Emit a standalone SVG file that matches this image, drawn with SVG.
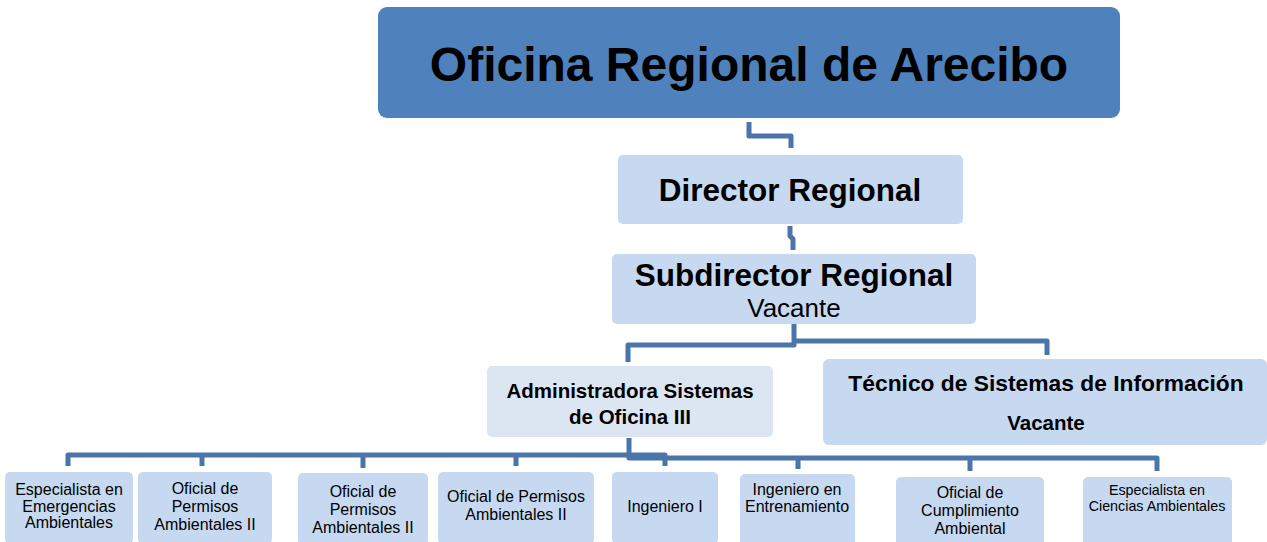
<svg xmlns="http://www.w3.org/2000/svg" width="1267" height="542" viewBox="0 0 1267 542">
<style>
.bx{fill:#c6d9f1;}
.bx2{fill:#dce6f2;}
.top{fill:#4f81bd;}
.ln{fill:none;stroke:#4a74aa;stroke-width:5;stroke-linejoin:round;}
text{font-family:"Liberation Sans",Arial,sans-serif;fill:#000;text-anchor:middle;}
.b{font-weight:bold;}
.s{font-size:16px;}
</style>
<rect width="1267" height="542" fill="#fff"/>
<g id="connectors">
<path class="ln" d="M749 122 V136 H791 V148"/>
<path class="ln" d="M790 226 V236 L793 239 V250"/>
<path class="ln" d="M794 324 V345 H628 V362"/>
<path class="ln" d="M794 341 H1047 V355"/>
<path class="ln" d="M629 438 V458 H1157 V471"/>
<path class="ln" d="M68 466 V455 H665 V466"/>
<path class="ln" d="M202 455 V466"/>
<path class="ln" d="M363 455 V468"/>
<path class="ln" d="M516 455 V466"/>
<path class="ln" d="M798 458 V469"/>
<path class="ln" d="M970 458 V471"/>
</g>
<g id="n-oficina">
<rect class="top" x="378" y="7" width="742" height="111" rx="9"/>
<text class="b" x="749" y="81" font-size="48">Oficina Regional de Arecibo</text>
</g>
<g id="n-director">
<rect class="bx" x="618" y="155" width="345" height="69" rx="5"/>
<text class="b" x="790" y="201" font-size="31.5">Director Regional</text>
</g>
<g id="n-subdirector">
<rect class="bx" x="612" y="254" width="364" height="70" rx="5"/>
<text class="b" x="794" y="286" font-size="31.5">Subdirector Regional</text>
<text x="794" y="317" font-size="26">Vacante</text>
</g>
<g id="n-admin">
<rect class="bx2" x="487" y="366" width="286" height="71" rx="5"/>
<text class="b" x="630" y="398" font-size="20.5">Administradora Sistemas</text>
<text class="b" x="630" y="424" font-size="20.5">de Oficina III</text>
</g>
<g id="n-tecnico">
<rect class="bx" x="823" y="359" width="444" height="86" rx="6"/>
<text class="b" x="1046" y="391" font-size="22.8">Técnico de Sistemas de Información</text>
<text class="b" x="1046" y="430" font-size="20.5">Vacante</text>
</g>
<g id="n-b1">
<rect class="bx" x="5" y="472" width="128" height="72" rx="5"/>
<text class="s" x="69" y="495">Especialista en</text>
<text class="s" x="69" y="512">Emergencias</text>
<text class="s" x="69" y="528">Ambientales</text>
</g>
<g id="n-b2">
<rect class="bx" x="138" y="472" width="134" height="72" rx="5"/>
<text class="s" x="205" y="494">Oficial de</text>
<text class="s" x="205" y="512">Permisos</text>
<text class="s" x="205" y="530">Ambientales II</text>
</g>
<g id="n-b3">
<rect class="bx" x="298" y="473" width="130" height="72" rx="5"/>
<text class="s" x="363" y="497">Oficial de</text>
<text class="s" x="363" y="515">Permisos</text>
<text class="s" x="363" y="533">Ambientales II</text>
</g>
<g id="n-b4">
<rect class="bx" x="438" y="472" width="156" height="72" rx="5"/>
<text class="s" x="516" y="502">Oficial de Permisos</text>
<text class="s" x="516" y="520">Ambientales II</text>
</g>
<g id="n-b5">
<rect class="bx" x="612" y="472" width="106" height="72" rx="5"/>
<text class="s" x="665" y="512">Ingeniero I</text>
</g>
<g id="n-b6">
<rect class="bx" x="740" y="474" width="115" height="72" rx="5"/>
<text class="s" x="797" y="495">Ingeniero en</text>
<text class="s" x="797" y="512">Entrenamiento</text>
</g>
<g id="n-b7">
<rect class="bx" x="896" y="477" width="148" height="72" rx="5"/>
<text class="s" x="970" y="498">Oficial de</text>
<text class="s" x="970" y="516">Cumplimiento</text>
<text class="s" x="970" y="534">Ambiental</text>
</g>
<g id="n-b8">
<rect class="bx" x="1083" y="477" width="149" height="72" rx="5"/>
<text x="1157" y="495" font-size="14.3">Especialista en</text>
<text x="1157" y="511" font-size="14.3">Ciencias Ambientales</text>
</g>
</svg>
